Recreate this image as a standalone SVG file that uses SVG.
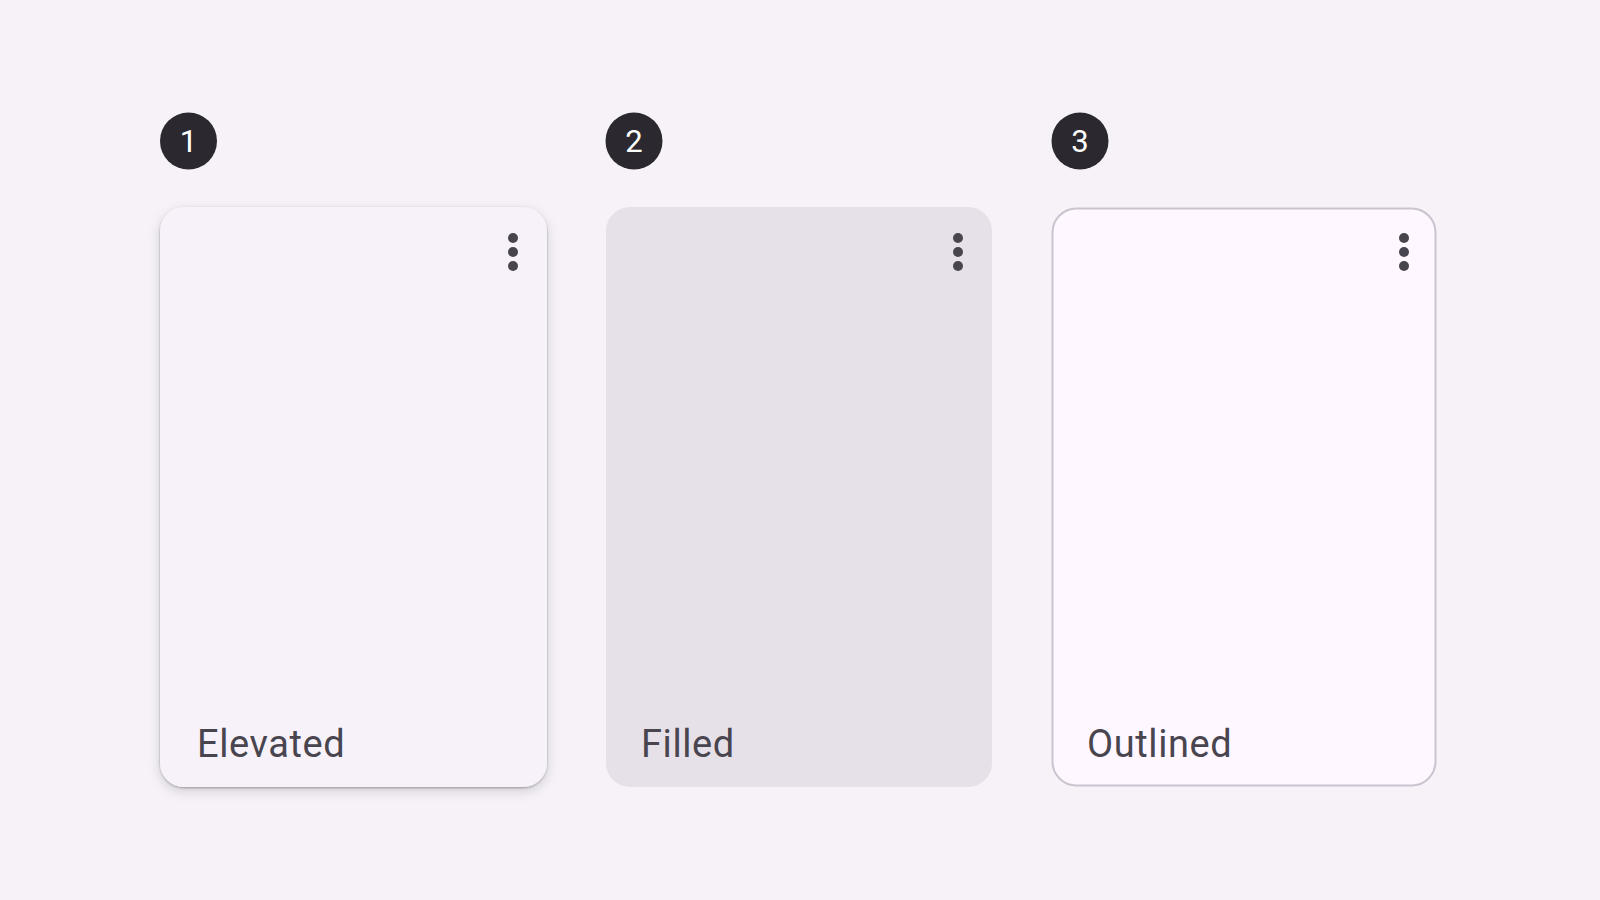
<svg xmlns="http://www.w3.org/2000/svg" width="1600" height="900" viewBox="0 0 1600 900">
<defs>
<filter id="elev" x="-10%" y="-10%" width="120%" height="125%">
<feDropShadow dx="0" dy="1" stdDeviation="1" flood-color="#000" flood-opacity="0.3"/>
<feDropShadow dx="0" dy="4" stdDeviation="6" flood-color="#000" flood-opacity="0.15"/>
</filter>
<g id="dots"><circle cx="0" cy="0" r="5"/><circle cx="0" cy="14" r="5"/><circle cx="0" cy="28" r="5"/></g>
</defs>
<style>
.badge{fill:#2B292F}
.num{fill:#FFFFFF;font-family:Roboto,"Liberation Sans",sans-serif;font-size:31px;text-anchor:middle}
.label{fill:#49454F;font-family:Roboto,"Liberation Sans",sans-serif;font-size:38px;letter-spacing:0.6px}
.dot{fill:#49454F}
</style>
<rect width="1600" height="900" fill="#F6F2F8"/>
<g id="card1">
<circle class="badge" cx="188.5" cy="141" r="28.5"/>
<text class="num" x="188.5" y="152">1</text>
<rect x="160" y="207" width="387" height="580" rx="24" fill="#F7F2FA" filter="url(#elev)"/>
<use href="#dots" x="513" y="238" class="dot"/>
<text class="label" x="197" y="757">Elevated</text>
</g>
<g id="card2">
<circle class="badge" cx="634" cy="141" r="28.5"/>
<text class="num" x="634" y="152">2</text>
<rect x="606" y="207" width="386" height="580" rx="24" fill="#E6E0E9"/>
<use href="#dots" x="958" y="238" class="dot"/>
<text class="label" x="641" y="757">Filled</text>
</g>
<g id="card3">
<circle class="badge" cx="1080" cy="141" r="28.5"/>
<text class="num" x="1080" y="152">3</text>
<rect x="1052.5" y="208.5" width="383" height="577" rx="24" fill="#FEF7FF" stroke="#CAC4D0" stroke-width="2"/>
<use href="#dots" x="1404" y="238" class="dot"/>
<text class="label" x="1087" y="757">Outlined</text>
</g>
<g id="connectors"/>
</svg>
